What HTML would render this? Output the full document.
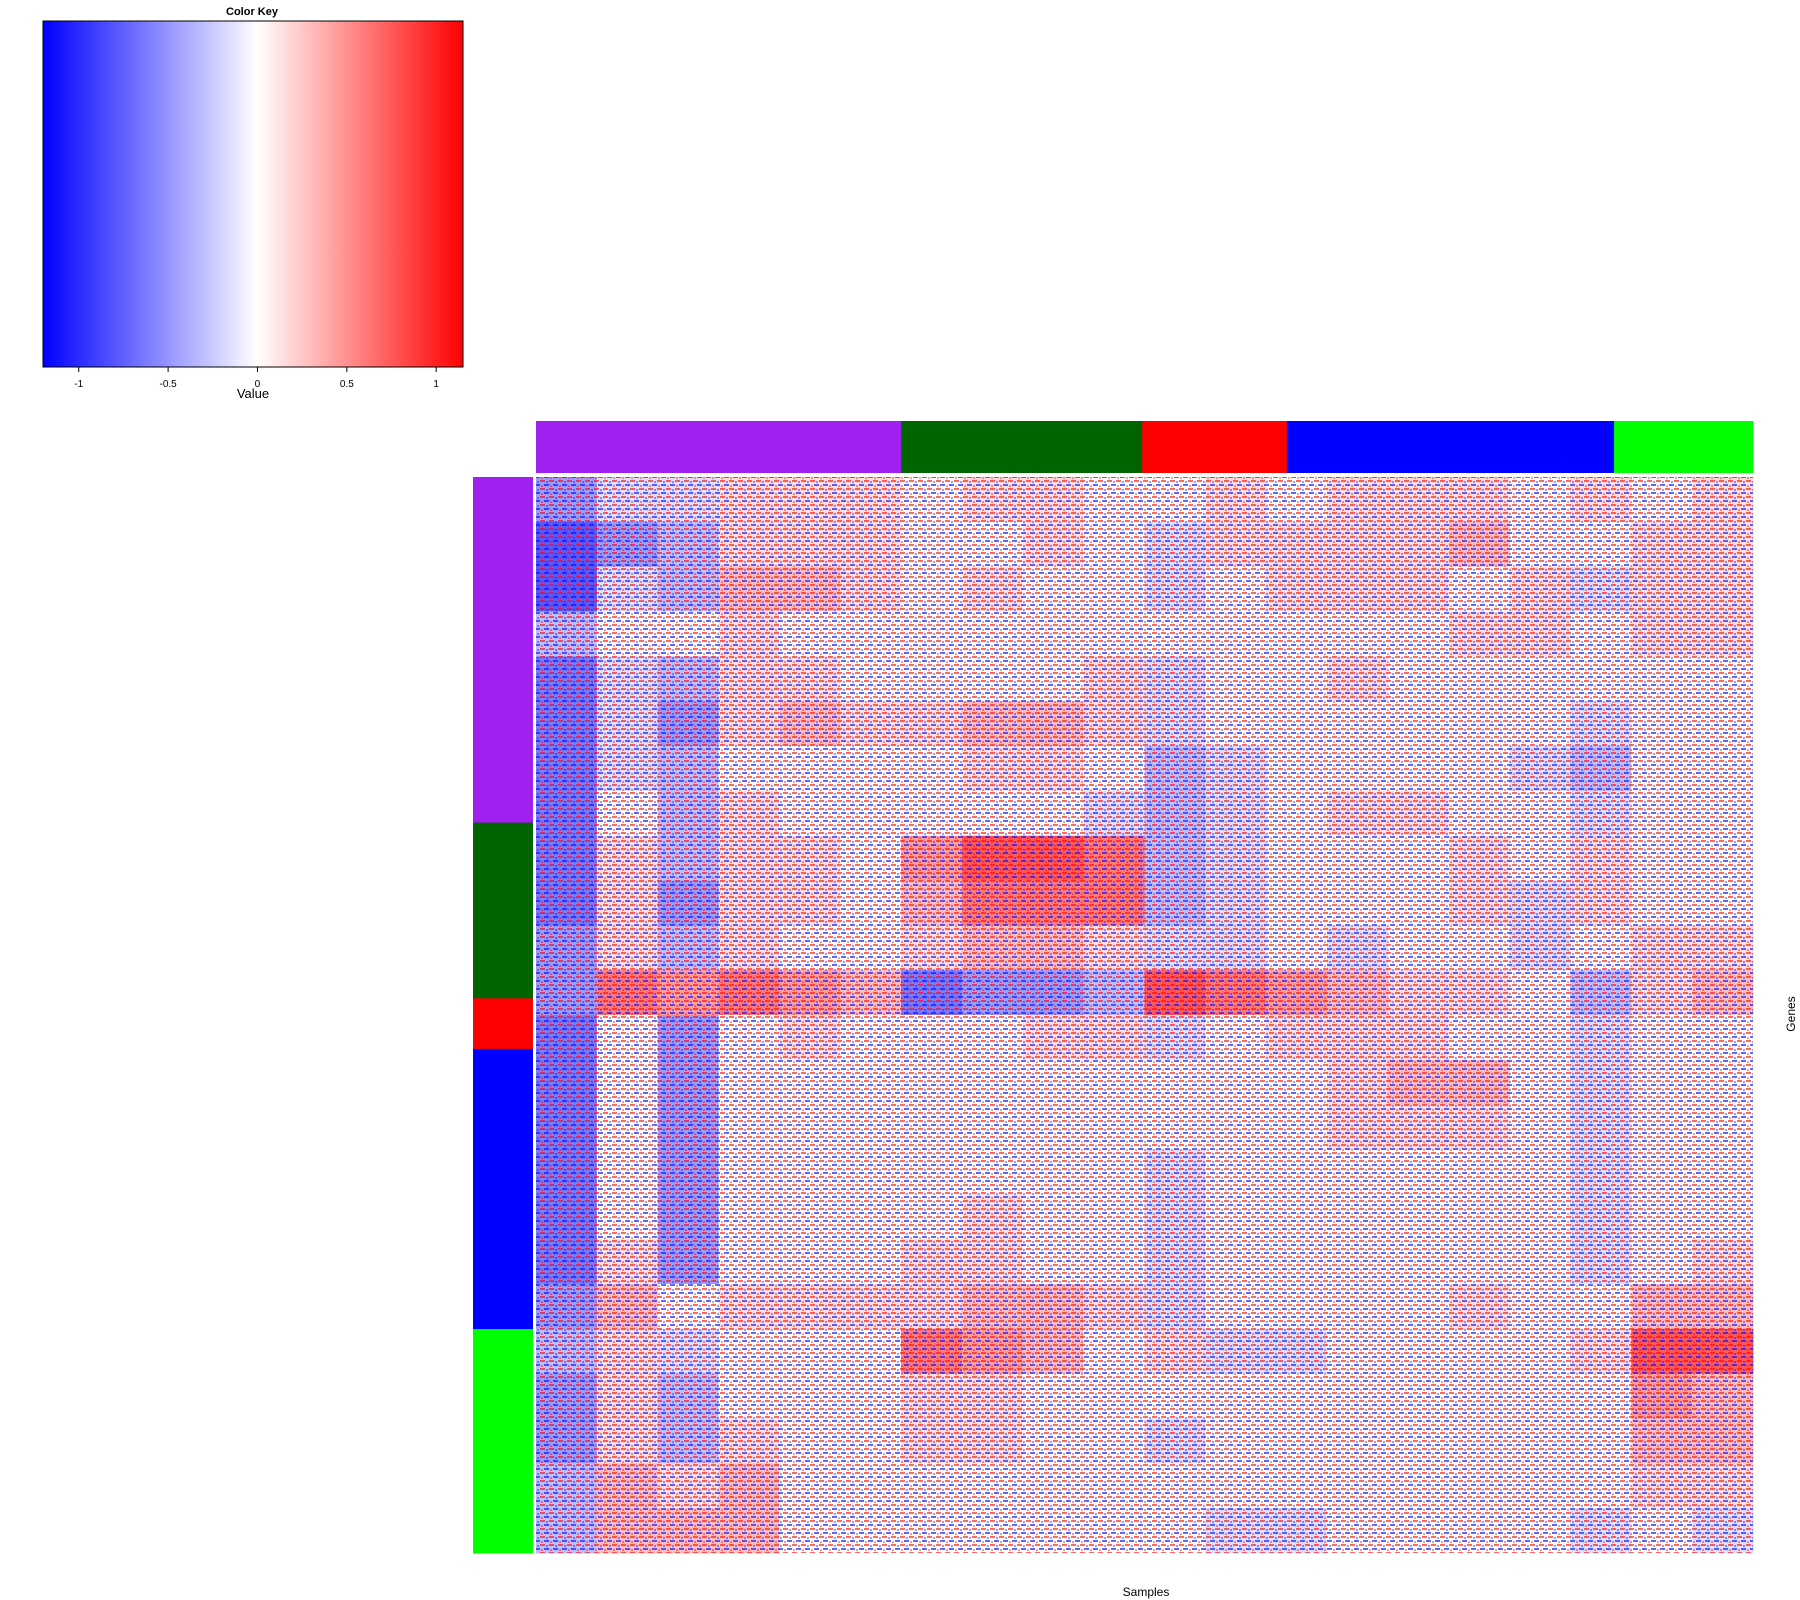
<!DOCTYPE html>
<html><head><meta charset="utf-8">
<style>
html,body{margin:0;padding:0;background:#fff;}
svg{display:block;font-family:"Liberation Sans",sans-serif;}
</style></head>
<body>
<svg id="chart" width="1800" height="1600" viewBox="0 0 1800 1600" xmlns="http://www.w3.org/2000/svg">
  <defs>
    <linearGradient id="keygrad" x1="0" x2="1" y1="0" y2="0">
      <stop offset="0" stop-color="#0000ff"/>
      <stop offset="0.51" stop-color="#ffffff"/>
      <stop offset="1" stop-color="#ff0000"/>
    </linearGradient>
    <pattern id="tex" width="9" height="8" patternUnits="userSpaceOnUse">
      <rect x="0" y="0" width="5" height="2" fill="#ff0000" opacity="0.6"/>
      <rect x="4" y="4" width="5" height="2" fill="#0000ff" opacity="0.6"/>
      <rect x="6" y="1" width="2" height="2" fill="#0000ff" opacity="0.4"/>
      <rect x="1" y="5" width="2" height="2" fill="#ff0000" opacity="0.4"/>
    </pattern>
  </defs>
  <g>
    <text x="252" y="15" font-size="11" font-weight="bold" text-anchor="middle">Color Key</text>
    <rect x="43" y="21" width="420" height="346" fill="url(#keygrad)" stroke="#000" stroke-width="1"/>
    <g id="keyticks"></g>
    <text x="253" y="398" font-size="13" text-anchor="middle">Value</text>
  </g>
  <g id="colbar"></g>
  <g id="rowbar"></g>
  <g id="heat"></g>
  <rect x="536" y="477" width="1217" height="1076" fill="url(#tex)"/>
  <text x="1146" y="1596" font-size="12" text-anchor="middle">Samples</text>
  <text x="1795" y="1014" font-size="12" text-anchor="middle" transform="rotate(-90 1795 1014)">Genes</text>
</svg>
<script>
const keyTicks = [-1, -0.5, 0, 0.5, 1];
const keyTickLabels = ["-1", "-0.5", "0", "0.5", "1"];
const colGroups = ["purple", "darkgreen", "red", "blue", "green"];
const colGroupSizes = [318, 210, 126, 285, 121];
const rowGroupSizes = [301, 153, 44, 244, 195];
const groupColors = ["#a020f0", "#006400", "#ff0000", "#0000ff", "#00ff00"];
const heatValues = [
[-0.3,-0.1,-0.1,0.1,0.1,0.1,0,0.1,0.1,0,0,0.1,0,0.1,0.1,0.1,0,0.1,0,0.1],
[-0.5,-0.3,-0.2,0.1,0.1,0.1,0,0,0.1,0,-0.1,0.1,0.1,0.1,0.1,0.2,0,0,0.1,0.1],
[-0.5,-0.1,-0.2,0.2,0.2,0.1,0,0.1,0,0,-0.1,0,0.1,0.1,0.1,0,0.1,-0.1,0.1,0.1],
[-0.2,0,0,0.1,0,0,0,0,0,0,0,0,0,0,0,0.1,0.1,0,0.1,0.1],
[-0.4,-0.1,-0.2,0.1,0.1,0,0,0,0,0.1,-0.1,0,0,0.1,0,0,0,0,0,0],
[-0.4,-0.1,-0.3,0.1,0.2,0.1,0.1,0.2,0.2,0.1,-0.1,0,0,0,0,0,0,-0.1,0,0],
[-0.4,-0.1,-0.2,0,0,0,0,0.1,0.1,0,-0.2,-0.1,0,0,0,0,-0.1,-0.2,0,0],
[-0.4,0,-0.2,0.1,0,0,0,0,0,-0.1,-0.2,-0.1,0,0.1,0.1,0,0,-0.1,0,0],
[-0.4,0.1,-0.2,0.1,0.1,0,0.3,0.5,0.5,0.4,-0.2,-0.1,0,0,0,0.1,0,0.1,0,0],
[-0.4,0.1,-0.3,0.1,0.1,0,0.2,0.4,0.4,0.4,-0.2,-0.1,0,0,0,0.1,-0.1,0.1,0,0],
[-0.3,0.1,-0.2,0.1,0,0,0.1,0.2,0.2,0.1,-0.1,-0.1,0,-0.1,0,0,-0.1,0,0.1,0.1],
[-0.3,0.4,0.3,0.4,0.3,0.2,-0.4,-0.3,-0.3,-0.2,0.5,0.4,0.3,0.2,0.1,0.1,0,-0.2,0.1,0.2],
[-0.4,0,-0.3,0,0.1,0,0,0,0.1,0.1,-0.1,0,0.1,0.1,0.1,0,0,-0.1,0,0],
[-0.4,0,-0.3,0,0,0,0,0,0,0,0,0,0,0.1,0.2,0.2,0,-0.1,0,0],
[-0.4,0,-0.3,0,0,0,0,0,0,0,0,0,0,0.1,0.1,0.1,0,-0.1,0,0],
[-0.4,0,-0.3,0,0,0,0,0,0,0,-0.1,0,0,0,0,0,0,-0.1,0,0],
[-0.4,0,-0.3,0,0,0,0,0.1,0,0,-0.1,0,0,0,0,0,0,-0.1,0,0],
[-0.4,0.1,-0.3,0,0,0,0.1,0.1,0,0,-0.1,0,0,0,0,0,0,-0.1,0,0.1],
[-0.3,0.2,0,0.1,0.1,0.1,0.1,0.2,0.2,0.1,-0.1,0,0,0,0,0.1,0,0,0.2,0.2],
[-0.2,0.1,-0.1,0,0,0,0.4,0.3,0.2,0,0.1,-0.1,-0.1,0,0,0,0,0.1,0.5,0.5],
[-0.3,0.1,-0.2,0,0,0,0.1,0.1,0,0,0,0,0,0,0,0,0,0,0.3,0.2],
[-0.3,0.1,-0.2,0.1,0,0,0.1,0.1,0,0,-0.1,0,0,0,0,0,0,0,0.2,0.2],
[-0.2,0.2,0.1,0.2,0,0,0,0,0,0,0,0,0,0,0,0,0,0,0.1,0.1],
[-0.2,0.2,0.2,0.2,0,0,0,0,0,0,0,-0.1,-0.1,0,0,0,0,-0.1,0,-0.1]
];

const NS = "http://www.w3.org/2000/svg";
function mk(tag, attrs, parent){const e=document.createElementNS(NS,tag);for(const k in attrs)e.setAttribute(k,attrs[k]);parent.appendChild(e);return e;}

const kx0=43,kx1=463,kv0=-1.2,kv1=1.15;
const kScale=v=>kx0+(v-kv0)/(kv1-kv0)*(kx1-kx0);
const kt=document.getElementById('keyticks');
keyTicks.forEach((v,i)=>{
  const x=kScale(v);
  const l=mk('line',{x1:x,x2:x,y1:367,y2:372,stroke:'#000'},kt);
  
  
  const t=mk('text',{x:x,y:387,'font-size':10,'text-anchor':'middle'},kt);
  
  
  t.textContent=keyTickLabels[i];
});

const hx0=536,hx1=1753,hy0=477,hy1=1553;
const colTotal=colGroupSizes.reduce((a,b)=>a+b,0);
let cx=hx0;
const cb=document.getElementById('colbar');
colGroupSizes.forEach((s,i)=>{
  const w=s/colTotal*(hx1-hx0);
  const r=mk('rect',{x:cx,y:421,width:w+0.5,height:52,fill:groupColors[i]},cb);
  
  
  cx+=w;
});
const rowTotal=rowGroupSizes.reduce((a,b)=>a+b,0);
let ry=hy0;
const rb=document.getElementById('rowbar');
rowGroupSizes.forEach((s,i)=>{
  const h=s/rowTotal*(hy1-hy0);
  const r=mk('rect',{x:473,y:ry,width:60,height:h+0.5,fill:groupColors[i]},rb);
  
  
  ry+=h;
});

function colorOf(v){
  const t=Math.min(1,Math.abs(v));
  const c=Math.round(255*(1-t));
  return v<0?`rgb(${c},${c},255)`:`rgb(255,${c},${c})`;
}
const nR=heatValues.length,nC=heatValues[0].length;
const xScale=j=>hx0+j*(hx1-hx0)/nC;
const yScale=i=>hy0+i*(hy1-hy0)/nR;
const hg=document.getElementById('heat');
for(let i=0;i<nR;i++)for(let j=0;j<nC;j++){
  const v=heatValues[i][j];
  const r=mk('rect',{x:xScale(j),y:yScale(i),width:xScale(j+1)-xScale(j)+0.5,height:yScale(i+1)-yScale(i)+0.5,fill:colorOf(v*1.3)},hg);
  
  
}
</script>
</body></html>
